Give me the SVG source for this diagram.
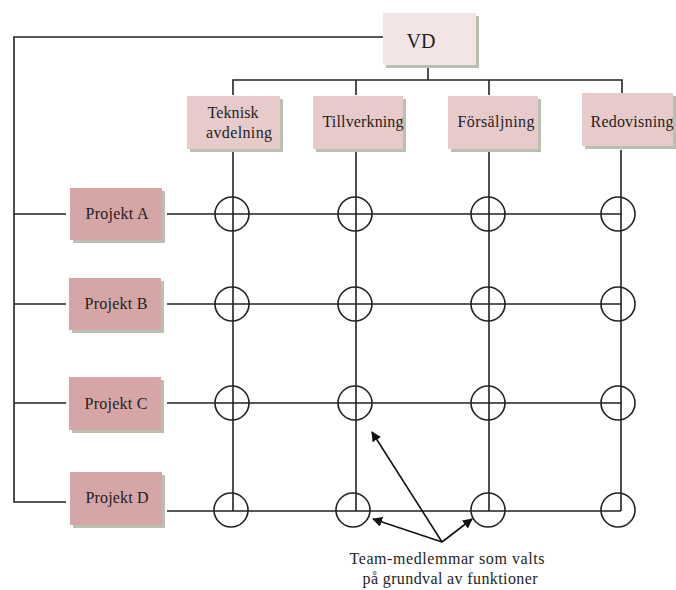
<svg xmlns="http://www.w3.org/2000/svg" width="676" height="590" viewBox="0 0 676 590">
<style>
.ln{stroke:#222;stroke-width:1.6;fill:none}
.cir{stroke:#222;stroke-width:1.6;fill:none}
.shadow{fill:#b9c0b0}
.vd{fill:#f3e5e5}
.fn{fill:#e7caca}
.pj{fill:#d6a5a5}
text{font-family:"Liberation Serif","Times New Roman",serif;fill:#1e1e1e;text-anchor:middle}
.t{font-size:16px}
.ar{stroke:#111;stroke-width:1.6;fill:none;marker-end:url(#ah)}
</style>
<defs>
<marker id="ah" viewBox="0 0 10 10" refX="9" refY="5" markerWidth="10" markerHeight="10" markerUnits="userSpaceOnUse" orient="auto">
<path d="M0,0 L10,5 L0,10 z" fill="#111"/>
</marker>
</defs>
<rect width="676" height="590" fill="#fff"/>
<g id="connectors">
<path class="ln" d="M385,37 H14 V502 H66"/>
<path class="ln" d="M14,214 H66 M14,304 H66 M14,403 H66"/>
<path class="ln" d="M428,66 V80 M233,95 V80 H622 V93 M356,80 V95 M489,80 V95"/>
<path class="ln" d="M233,152 V511 M356,152 V511 M489,152 V511 M621,150 V511"/>
<path class="ln" d="M167,214 H621 M167,304 H621 M167,403 H621 M167,511 H621"/>
<g class="cir">
<circle cx="232" cy="214" r="17"/><circle cx="355" cy="214" r="17"/><circle cx="488" cy="214" r="17"/><circle cx="618" cy="214" r="17"/>
<circle cx="232" cy="304" r="17"/><circle cx="355" cy="304" r="17"/><circle cx="488" cy="304" r="17"/><circle cx="618" cy="304" r="17"/>
<circle cx="232" cy="403" r="17"/><circle cx="355" cy="403" r="17"/><circle cx="488" cy="403" r="17"/><circle cx="618" cy="403" r="17"/>
<circle cx="231" cy="510" r="17"/><circle cx="353" cy="510" r="17"/><circle cx="488" cy="510" r="17"/><circle cx="618" cy="510" r="17"/>
</g>
<path class="ar" d="M442,542 L372,432"/>
<path class="ar" d="M442,542 L373,519"/>
<path class="ar" d="M442,542 L472,519"/>
</g>
<g id="vd">
<rect class="shadow" x="386" y="16" width="93" height="52"/>
<rect class="vd" x="383" y="13" width="93" height="52"/>
<text x="421" y="48" font-size="20">VD</text>
</g>
<g id="teknisk">
<rect class="shadow" x="190" y="99" width="93" height="53"/>
<rect class="fn" x="187" y="96" width="93" height="53"/>
<text class="t" x="233" y="118" textLength="51">Teknisk</text>
<text class="t" x="239" y="138" textLength="66">avdelning</text>
</g>
<g id="tillverkning">
<rect class="shadow" x="316" y="99" width="90" height="53"/>
<rect class="fn" x="313" y="96" width="90" height="53"/>
<text class="t" x="363" y="127" textLength="81">Tillverkning</text>
</g>
<g id="forsaljning">
<rect class="shadow" x="451" y="99" width="90" height="53"/>
<rect class="fn" x="448" y="96" width="90" height="53"/>
<text class="t" x="496" y="127" textLength="77">Försäljning</text>
</g>
<g id="redovisning">
<rect class="shadow" x="585" y="96" width="91" height="53"/>
<rect class="fn" x="582" y="93" width="91" height="53"/>
<text class="t" x="632" y="127" textLength="83">Redovisning</text>
</g>
<g id="projektA">
<rect class="shadow" x="73" y="191" width="92" height="52"/>
<rect class="pj" x="70" y="188" width="92" height="52"/>
<text class="t" x="117" y="219" textLength="63">Projekt A</text>
</g>
<g id="projektB">
<rect class="shadow" x="72" y="281" width="92" height="52"/>
<rect class="pj" x="69" y="278" width="92" height="52"/>
<text class="t" x="116" y="309" textLength="63">Projekt B</text>
</g>
<g id="projektC">
<rect class="shadow" x="72" y="380" width="92" height="53"/>
<rect class="pj" x="69" y="377" width="92" height="53"/>
<text class="t" x="116" y="409" textLength="63">Projekt C</text>
</g>
<g id="projektD">
<rect class="shadow" x="73" y="475" width="92" height="53"/>
<rect class="pj" x="70" y="472" width="92" height="53"/>
<text class="t" x="117" y="503" textLength="63">Projekt D</text>
</g>
<g id="label">
<text x="447" y="564" font-size="16" textLength="195">Team-medlemmar som valts</text>
<text x="450" y="584" font-size="16" textLength="175">på grundval av funktioner</text>
</g>
</svg>
